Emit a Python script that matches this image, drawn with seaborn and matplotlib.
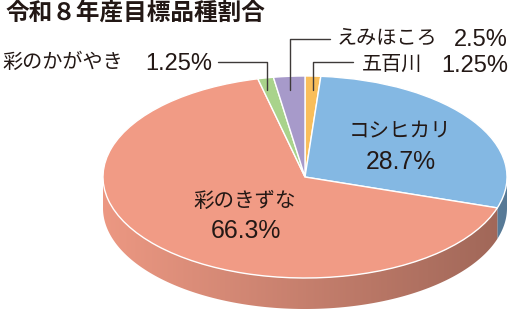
import numpy as np
import matplotlib
matplotlib.use("Agg")
import matplotlib.pyplot as plt
import seaborn as sns
from matplotlib.patches import Polygon
from matplotlib.colors import to_rgb

# ---- data ----
varieties = ["五百川", "コシヒカリ", "彩のきずな", "彩のかがやき", "えみほころ"]
shares = [1.25, 28.7, 66.3, 1.25, 2.5]
share_labels = ["1.25%", "28.7%", "66.3%", "1.25%", "2.5%"]
colors = ["#F9BE5B", "#84B8E3", "#F19B85", "#A9D38B", "#A79ACA"]
title = "令和８年産目標品種割合"

sns.set_theme(style="white")
plt.rcParams['font.family'] = ['Noto Sans CJK JP', 'DejaVu Sans']
JP = ['Noto Sans CJK JP', 'DejaVu Sans']
NUM = ['Liberation Sans', 'DejaVu Sans']
TXT = "#231815"

W, H = 513, 312
fig = plt.figure(figsize=(W / 100, H / 100), dpi=100)
ax = fig.add_axes([0, 0, 1, 1])
cx, cy, rx, ry, depth_px = 305, 177, 202, 101, 31
depth = depth_px / ry

wedges, _ = ax.pie(shares, colors=colors, startangle=90, counterclock=False,
                   radius=1, center=(0, 0),
                   wedgeprops=dict(edgecolor='white', linewidth=1.0))
for w in wedges:
    w.set_zorder(3)

# ---- side walls (front half) with horizontal shading ----
xs = np.linspace(-1, 1, 256)
shade = 0.82 - 0.16 * xs
for w, col in zip(wedges, colors):
    base = np.array(to_rgb(col))
    t1, t2 = w.theta1, w.theta2
    for k in range(-2, 3):
        a0 = max(t1, 180 + 360 * k)
        a1 = min(t2, 360 + 360 * k)
        if a1 <= a0:
            continue
        angs = np.radians(np.linspace(a0, a1, 200))
        top = np.column_stack([np.cos(angs), np.sin(angs)])
        bot = np.column_stack([np.cos(angs[::-1]), np.sin(angs[::-1]) - depth])
        poly = Polygon(np.vstack([top, bot]), closed=True, facecolor='none',
                       edgecolor='none', transform=ax.transData)
        ax.add_patch(poly)
        img = np.clip(base[None, None, :] * shade[None, :, None], 0, 1)
        im = ax.imshow(img, extent=(-1, 1, -1 - depth, 0), aspect='auto',
                       interpolation='bilinear', zorder=1, origin='lower')
        im.set_clip_path(poly)

ax.set_aspect('auto')
ax.set_xlim(-cx / rx, (W - cx) / rx)
ax.set_ylim(-(H - cy) / ry, cy / ry)
ax.axis('off')

# ---- overlay for text in pixel coordinates ----
ax2 = fig.add_axes([0, 0, 1, 1], facecolor='none')
ax2.set_xlim(0, W)
ax2.set_ylim(H, 0)
ax2.axis('off')

ax2.text(5, 13, title, fontsize=17, fontweight='bold', color=TXT, ha='left', va='center', family=JP)

fs, fn = 14.5, 17
ax2.text(2, 62, varieties[3], fontsize=fs, color=TXT, ha='left', va='center', family=JP)
ax2.text(212, 64, share_labels[3], fontsize=fn, color=TXT, ha='right', va='center', family=NUM)
ax2.text(337, 38, varieties[4], fontsize=fs, color=TXT, ha='left', va='center', family=JP)
ax2.text(508, 40, share_labels[4], fontsize=fn, color=TXT, ha='right', va='center', family=NUM)
ax2.text(362, 64, varieties[0], fontsize=fs, color=TXT, ha='left', va='center', family=JP)
ax2.text(508, 66, share_labels[0], fontsize=fn, color=TXT, ha='right', va='center', family=NUM)

lc = "#3E3A39"
ax2.plot([218, 267, 267], [62, 62, 90], color=lc, lw=1.0, zorder=5)
ax2.plot([330, 290, 290], [39, 39, 90], color=lc, lw=1.0, zorder=5)
ax2.plot([353, 313, 313], [62, 62, 90], color=lc, lw=1.0, zorder=5)

fi, fni = 14.8, 17.8
ax2.text(400, 130, varieties[1], fontsize=fi, color=TXT, ha='center', va='center', family=JP)
ax2.text(401, 162, share_labels[1], fontsize=fni, color=TXT, ha='center', va='center', family=NUM)
ax2.text(245, 201, varieties[2], fontsize=fi, color=TXT, ha='center', va='center', family=JP)
ax2.text(246, 231, share_labels[2], fontsize=fni, color=TXT, ha='center', va='center', family=NUM)

fig.savefig("out.png", dpi=100)
